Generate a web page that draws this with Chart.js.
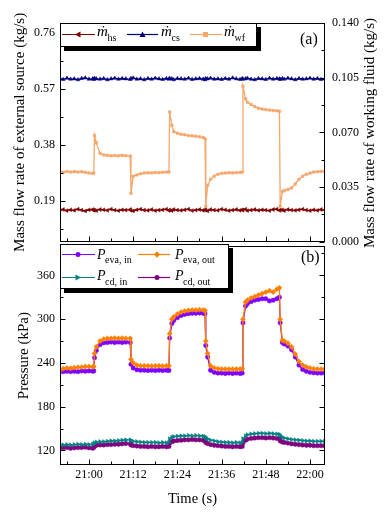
<!DOCTYPE html>
<html><head><meta charset="utf-8">
<script src="https://cdn.jsdelivr.net/npm/chart.js@4.4.1/dist/chart.umd.min.js"></script>
<style>
body{margin:0;background:#fff;}
#wrap{position:relative;width:384px;height:513px;overflow:hidden;font-family:'Liberation Serif','Times New Roman',serif;color:#000;}
canvas{position:absolute;left:0;}
.box{position:absolute;box-sizing:border-box;border:1px solid #000;background:#fff;}
.t{position:absolute;line-height:1;white-space:nowrap;}
.mi{font-style:italic;font-size:15px;}
.pi{font-style:italic;font-size:14px;}
.sb{font-size:10px;}
</style></head><body>
<div id="wrap">
<canvas id="c1" width="384" height="256" style="top:0"></canvas>
<canvas id="c2" width="384" height="279" style="top:234px"></canvas>
<div class="box" style="left:60px;top:23px;width:197px;height:24px;box-shadow:4px 4px 0 #000"></div>
<div class="box" style="left:60px;top:244px;width:169px;height:45px;box-shadow:4px 4px 0 #000"></div>
<svg width="384" height="513" style="position:absolute;left:0;top:0;pointer-events:none">
  <line x1="62" y1="34.5" x2="95" y2="34.5" stroke="#800000" stroke-width="1.2"/>
  <polygon points="75,34.5 80.5,31.5 80.5,37.5" fill="#800000"/>
  <line x1="127" y1="34.5" x2="158" y2="34.5" stroke="#000080" stroke-width="1.2"/>
  <polygon points="142.5,31.5 139.5,37 145.5,37" fill="#000080"/>
  <line x1="190" y1="34.5" x2="222" y2="34.5" stroke="#F5A76C" stroke-width="1.2"/>
  <rect x="203" y="32" width="5" height="5" fill="#F5A76C"/>
  <line x1="62" y1="254.5" x2="95" y2="254.5" stroke="#7F00FF" stroke-width="1.2"/>
  <circle cx="78" cy="254.5" r="2.5" fill="#7F00FF"/>
  <line x1="138" y1="254.5" x2="170" y2="254.5" stroke="#FF8000" stroke-width="1.2"/>
  <polygon points="157,251.3 160.2,254.5 157,257.7 153.8,254.5" fill="#FF8000"/>
  <line x1="62" y1="277.5" x2="95" y2="277.5" stroke="#008080" stroke-width="1.2"/>
  <polygon points="81,277.5 75.5,274.5 75.5,280.5" fill="#008080"/>
  <line x1="138" y1="277.5" x2="170" y2="277.5" stroke="#800080" stroke-width="1.2"/>
  <circle cx="157" cy="277.5" r="2.5" fill="#800080"/>
</svg>
<div class="t mi" style="left:97px;top:24.4px">ṁ</div><div class="t sb" style="left:107.5px;top:32.6px">hs</div>
<div class="t mi" style="left:161px;top:24.4px">ṁ</div><div class="t sb" style="left:171.5px;top:32.6px">cs</div>
<div class="t mi" style="left:224px;top:24.4px">ṁ</div><div class="t sb" style="left:234.5px;top:32.6px">wf</div>
<div class="t pi" style="left:97px;top:248.3px">P</div><div class="t sb" style="left:105px;top:254.6px">eva, in</div>
<div class="t pi" style="left:175px;top:248.3px">P</div><div class="t sb" style="left:183px;top:254.6px">eva, out</div>
<div class="t pi" style="left:97px;top:269.3px">P</div><div class="t sb" style="left:105px;top:276.6px">cd, in</div>
<div class="t pi" style="left:175px;top:269.3px">P</div><div class="t sb" style="left:183px;top:276.6px">cd, out</div>
<div class="t" style="left:300px;top:31px;font-size:16px">(a)</div>
<div class="t" style="left:301px;top:249px;font-size:16px">(b)</div>
<div class="t" style="left:369px;top:133px;font-size:15px;transform:translate(-50%,-50%) rotate(-90deg)">Mass flow rate of working fluid (kg/s)</div>
</div>
<script>
// time in minutes relative to 21:00
const times = [-7.9,-7,-6,-5,-4,-3,-2,-1,0,1, 1.3,1.5,2,3,4,5,6,7,8,9, 10,11.2,11.4,12,13,14,15,16,17,18, 19,20,21,21.7,21.9,22.5,23,24,25,26, 27,28,29,30,31,31.5,31.7,32.2,33,34, 35,36,37,38,39,40,41,41.6,41.8,42.5, 43,44,45,46,47,48,49,50,51,51.7, 51.9,52.5,53,54,55,56,57,58,59,60, 61,62,63,64];
const xTickValues = [0,12,24,36,48,60];
const xTickLabels = ['21:00','21:12','21:24','21:36','21:48','22:00'];
const xMinorValues = [-6,6,18,30,42,54];

const mhs = [0.158,0.160,0.156,0.159,0.157,0.161,0.158,0.155,0.159,0.160, 0.157,0.158,0.156,0.160,0.159,0.157,0.161,0.158,0.156,0.159, 0.158,0.160,0.157,0.155,0.159,0.161,0.158,0.157,0.160,0.156, 0.158,0.159,0.161,0.157,0.158,0.156,0.160,0.158,0.157,0.159, 0.161,0.156,0.158,0.160,0.157,0.159,0.158,0.155,0.160,0.158, 0.157,0.161,0.159,0.156,0.158,0.160,0.157,0.159,0.158,0.161, 0.156,0.158,0.160,0.157,0.159,0.158,0.156,0.160,0.161,0.157, 0.158,0.159,0.156,0.160,0.158,0.157,0.159,0.161,0.158,0.156, 0.159,0.157,0.160,0.158];
const mcs = [0.606,0.603,0.607,0.604,0.605,0.602,0.606,0.608,0.604,0.605, 0.603,0.607,0.605,0.604,0.606,0.602,0.605,0.607,0.604,0.606, 0.605,0.603,0.606,0.608,0.604,0.605,0.602,0.606,0.604,0.607, 0.605,0.603,0.606,0.604,0.607,0.605,0.602,0.606,0.605,0.604, 0.607,0.603,0.605,0.606,0.604,0.602,0.606,0.605,0.607,0.604, 0.605,0.603,0.606,0.604,0.608,0.605,0.603,0.606,0.604,0.605, 0.607,0.604,0.602,0.606,0.605,0.603,0.607,0.604,0.606,0.605, 0.603,0.606,0.604,0.607,0.605,0.602,0.606,0.604,0.605,0.607, 0.604,0.606,0.603,0.605];
const mwf = [0.0448,0.0445,0.0450,0.0446,0.0449,0.0446,0.0448,0.0445,0.0440,0.0438, 0.0440,0.0680,0.0633,0.0566,0.0556,0.0553,0.0550,0.0552,0.0550,0.0553, 0.0551,0.0549,0.0310,0.0420,0.0428,0.0435,0.0440,0.0442,0.0441,0.0444, 0.0443,0.0445,0.0446,0.0447,0.0830,0.0745,0.0705,0.0695,0.0688,0.0685, 0.0680,0.0678,0.0676,0.0672,0.0668,0.0660,0.0228,0.0361,0.0400,0.0420, 0.0432,0.0438,0.0440,0.0442,0.0441,0.0443,0.0444,0.0446,0.0995,0.0915, 0.0893,0.0878,0.0866,0.0855,0.0849,0.0846,0.0843,0.0840,0.0838,0.0836, 0.0228,0.0323,0.0328,0.0335,0.0345,0.0370,0.0400,0.0420,0.0432,0.0440, 0.0446,0.0448,0.0450,0.0451];

const pEvaIn = [228,228,228.5,228,228.5,228,229,228.5,229,228.5, 229,247,257,265,267.5,268,268.5,268,268.5,268, 268.5,268,238,233,230.5,230,230,229.5,230,229.5, 230,229.5,230,229.5,274,294,298,302,305,306.5, 307.5,308,308,308.5,308,307.5,264,248,230,227, 226,226,225.5,226,225.5,226,225.5,226,295,318, 321,324,326,327,328,328,325,326,328,330, 295,268,266,263,258,248,237,231,228.5,227, 226.5,226,226,226];
const pEvaOut = [230,232,233,232.5,233.5,234,234,235,235,234.5, 235,253,262,270,272.5,273.5,273.5,274,273.5,274, 273.5,273.5,245,240,237,236,236,236,235.5,236, 236,235.5,236,236,280,300,303,307,309.5,311, 312,312.5,312.5,313,312.5,312,270,253,236,233, 232,231.5,231.5,231.5,231.5,231.5,231.5,232,300,323, 326,329,331,333,335,337,339,337,341,343, 300,271,270,267,262,252,242,237,234.5,233, 232,231.5,231.5,231.5];
const pCdIn = [128,127.5,128,127.5,128,128.5,128,128.5,128,128.5, 129,130.5,131.5,132,132,132.5,133,133,133.5,134, 134.5,134.5,133.5,132.5,132,131.5,131,131,131,131, 130.5,131,130.5,131,136,138,139,139.5,140,140, 140.5,140,140.5,140,139.5,139,137,135.5,134,133, 132,131.5,131,131,130.5,131,130.5,131,136,140, 141.5,142.5,143,143.5,143.5,143,143.5,143,142.5,142, 140,138,137,136,135,134.5,134,133.5,133,133, 132.5,132.5,132.5,132.5];
const pCdOut = [124,123.5,124,123,123.5,124,124,124.5,123.5,123, 124,126,127,127.5,127.5,128,128,128.5,128.5,129, 129.5,129,127.5,126.5,126,125.5,125.5,125,125.5,125, 125,125.5,125,125.5,130,132,133,133.5,134,134.5, 134.5,135,134.5,134.5,134,133.5,131,129.5,128,127, 126.5,126,125.5,125.5,125,125.5,125,125.5,130,134, 135.5,136.5,137,137.5,137.5,137,137.5,137,136.5,136, 133,131.5,131,130,129,128.5,128,127.5,127,127, 126.5,126.5,126.5,126.5];

const leftTicks = [0.19,0.38,0.57,0.76];
const leftLabels = ['0.19','0.38','0.57','0.76'];
const leftMinor = [0.095,0.285,0.475,0.665];
const rightTicks = [0,0.035,0.07,0.105,0.14];
const rightLabels = ['0.000','0.035','0.070','0.105','0.140'];
const rightMinor = [0.0175,0.0525,0.0875,0.1225];
const pTicks = [120,180,240,300,360];
const pLabels = ['120','180','240','300','360'];
const pMinor = [150,210,270,330,390];

const FONT = "'Liberation Serif', 'Times New Roman', serif";
const xMin = -7.87, xMax = 64.07;
const pts = (xs, ys) => xs.map((x, i) => ({x: x, y: ys[i]}));

const framePlugin = {
  id: 'frame',
  afterDraw(chart, args, opts) {
    const ctx = chart.ctx, a = chart.chartArea;
    ctx.save();
    ctx.strokeStyle = '#000'; ctx.lineWidth = 1;
    const L = Math.round(a.left) + 0.5, R = Math.round(a.right) - 0.5, T = Math.round(a.top) + 0.5, B = Math.round(a.bottom) - 0.5;
    ctx.strokeRect(L, T, R - L, B - T);
    (opts.marks || []).forEach(m => {
      const s = chart.scales[m.scale];
      m.values.forEach(v => {
        const p = Math.round(s.getPixelForValue(v)) + 0.5;
        ctx.beginPath();
        if (m.side === 'left') { ctx.moveTo(L, p); ctx.lineTo(L + m.len, p); }
        else if (m.side === 'right') { ctx.moveTo(R, p); ctx.lineTo(R - m.len, p); }
        else { ctx.moveTo(p, B); ctx.lineTo(p, B - m.len); }
        ctx.stroke();
      });
    });
    ctx.restore();
  }
};

function setTicks(vals) { return s => { s.ticks = vals.map(v => ({value: v})); }; }

new Chart(document.getElementById('c1'), {
  type: 'line',
  plugins: [framePlugin],
  data: { datasets: [
    {data: pts(times, mhs), yAxisID: 'y', borderColor: '#800000', backgroundColor: '#800000', borderWidth: 1.3, pointStyle: 'triangle', rotation: -90, pointRadius: 2.2, pointBorderWidth: 0.5},
    {data: pts(times, mcs), yAxisID: 'y', borderColor: '#000080', backgroundColor: '#000080', borderWidth: 1.3, pointStyle: 'triangle', pointRadius: 2.2, pointBorderWidth: 0.5},
    {data: pts(times, mwf), yAxisID: 'y1', borderColor: '#F5A76C', backgroundColor: '#F5A76C', borderWidth: 1.3, pointStyle: 'rect', pointRadius: 1.8, pointBorderWidth: 0.5}
  ]},
  options: {
    responsive: false, animation: false, events: [],
    layout: {padding: {top: 23, bottom: 12, left: 0, right: 0}},
    plugins: {legend: {display: false}, tooltip: {enabled: false},
      frame: {marks: [
        {scale: 'y', side: 'left', values: leftTicks, len: 5},
        {scale: 'y', side: 'left', values: leftMinor, len: 3},
        {scale: 'y1', side: 'right', values: rightTicks, len: 5},
        {scale: 'y1', side: 'right', values: rightMinor, len: 3},
        {scale: 'x', side: 'bottom', values: xTickValues, len: 5},
        {scale: 'x', side: 'bottom', values: xMinorValues, len: 3}
      ]}},
    scales: {
      x: {type: 'linear', min: xMin, max: xMax, display: false},
      y: {position: 'left', min: 0.05, max: 0.795, afterBuildTicks: setTicks(leftTicks),
          afterFit: s => { s.width = 60; },
          grid: {display: false, drawTicks: false}, border: {display: false},
          ticks: {color: '#000', font: {family: FONT, size: 12}, padding: 5, callback: (v, i) => leftLabels[i]},
          title: {display: true, text: 'Mass flow rate of external source (kg/s)', color: '#000', font: {family: FONT, size: 15}, padding: {top: 11, bottom: 0}}},
      y1: {position: 'right', min: 0, max: 0.14, afterBuildTicks: setTicks(rightTicks),
          afterFit: s => { s.width = 59; },
          grid: {display: false, drawTicks: false}, border: {display: false},
          ticks: {color: '#000', font: {family: FONT, size: 12}, padding: 7, callback: (v, i) => rightLabels[i]}}
    }
  }
});

new Chart(document.getElementById('c2'), {
  type: 'line',
  plugins: [framePlugin],
  data: { datasets: [
    {data: pts(times, pEvaOut), order: 0, borderColor: '#FF8000', backgroundColor: '#FF8000', borderWidth: 1.3, pointStyle: 'rectRot', pointRadius: 2.6, pointBorderWidth: 0.5},
    {data: pts(times, pEvaIn), order: 1, borderColor: '#7F00FF', backgroundColor: '#7F00FF', borderWidth: 1.3, pointStyle: 'circle', pointRadius: 2.2, pointBorderWidth: 0.5},
    {data: pts(times, pCdIn), order: 2, borderColor: '#008080', backgroundColor: '#008080', borderWidth: 1.3, pointStyle: 'triangle', rotation: 90, pointRadius: 2.4, pointBorderWidth: 0.5},
    {data: pts(times, pCdOut), order: 3, borderColor: '#800080', backgroundColor: '#800080', borderWidth: 1.3, pointStyle: 'circle', pointRadius: 2.2, pointBorderWidth: 0.5}
  ]},
  options: {
    responsive: false, animation: false, events: [],
    layout: {padding: {top: 10, bottom: 0, left: 0, right: 59}},
    plugins: {legend: {display: false}, tooltip: {enabled: false},
      frame: {marks: [
        {scale: 'y', side: 'left', values: pTicks, len: 5},
        {scale: 'y', side: 'left', values: pMinor, len: 3},
        {scale: 'y', side: 'right', values: pTicks, len: 5},
        {scale: 'y', side: 'right', values: pMinor, len: 3},
        {scale: 'x', side: 'bottom', values: xTickValues, len: 5},
        {scale: 'x', side: 'bottom', values: xMinorValues, len: 3}
      ]}},
    scales: {
      x: {type: 'linear', position: 'bottom', min: xMin, max: xMax, afterBuildTicks: setTicks(xTickValues),
          afterFit: s => { s.height = 48; },
          grid: {display: false, drawTicks: false}, border: {display: false},
          ticks: {color: '#000', font: {family: FONT, size: 12}, padding: 3, maxRotation: 0, autoSkip: false, callback: (v, i) => xTickLabels[i]},
          title: {display: true, text: 'Time (s)', color: '#000', font: {family: FONT, size: 14.5}, padding: {top: 0, bottom: 5}}},
      y: {position: 'left', min: 100, max: 400, afterBuildTicks: setTicks(pTicks),
          afterFit: s => { s.width = 60; },
          grid: {display: false, drawTicks: false}, border: {display: false},
          ticks: {color: '#000', font: {family: FONT, size: 12}, padding: 5, callback: (v, i) => pLabels[i]},
          title: {display: true, text: 'Pressure (kPa)', color: '#000', font: {family: FONT, size: 15}, padding: {top: 15, bottom: 0}}}
    }
  }
});
</script>
</body></html>
